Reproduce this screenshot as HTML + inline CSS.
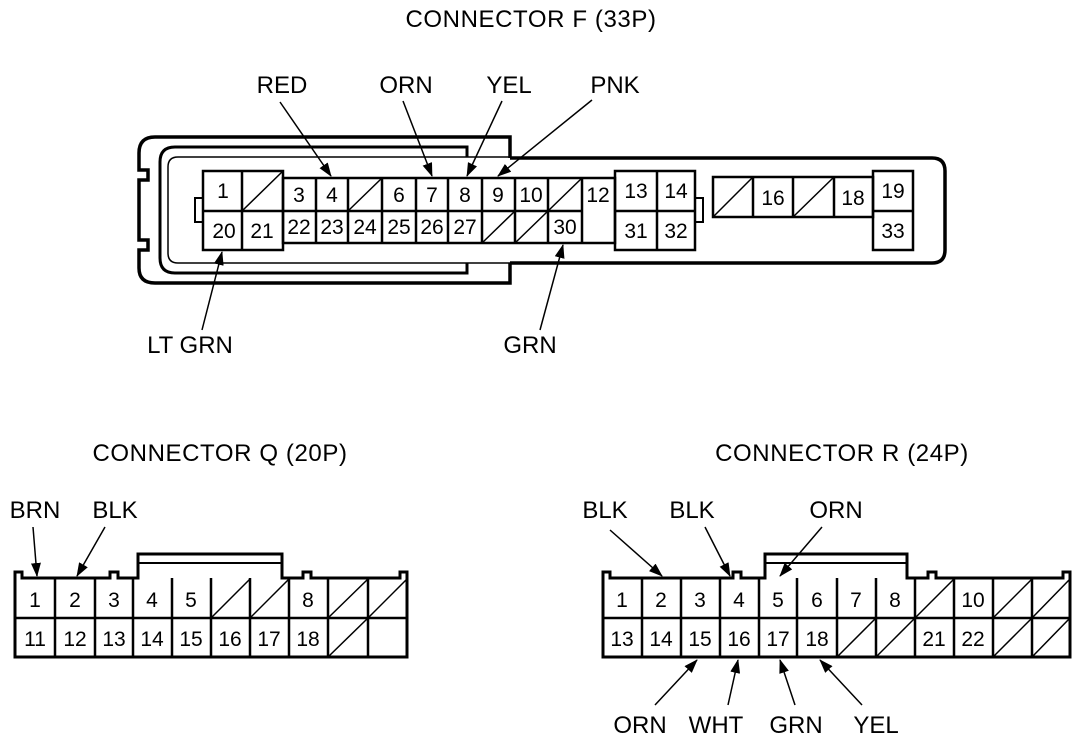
<!DOCTYPE html>
<html><head><style>
html,body{margin:0;padding:0;background:#fff;}
svg{display:block;}
text{font-family:"Liberation Sans",Arial,sans-serif;fill:#000;}
.lb{font-size:24px;}
.tt{font-size:24px;letter-spacing:0.6px;}
.n{font-size:21px;text-anchor:middle;}
</style></head><body>
<svg width="1088" height="740" viewBox="0 0 1088 740" xmlns="http://www.w3.org/2000/svg">
<defs>
<marker id="ah" markerWidth="14" markerHeight="10" refX="13" refY="5" orient="auto" markerUnits="userSpaceOnUse">
<path d="M0,0 L14,5 L0,10 Z" fill="#000"/>
</marker>
</defs>
<g fill="none" stroke="#000">
<path d="M510,158 L510,137 L155,137 Q139,137 139,153 L139,170 L148,170 L148,180 L139,180 L139,240 L148,240 L148,250 L139,250 L139,268 Q139,283 155,283 L510,283 L510,263" stroke-width="3.5"/>
<path d="M510,158 L932,158 Q945,158 945,171 L945,250 Q945,263 932,263 L510,263" stroke-width="3.5"/>
<path d="M467,157 L467,147 L175,147 Q160,147 160,162 L160,258 Q160,273 175,273 L467,273 L467,263" stroke-width="3"/>
<path d="M510,157 L178,157 Q168,157 168,167 L168,253 Q168,263 178,263 L510,263" stroke-width="1.5"/>
<path d="M203,198 L195,198 L195,222 L203,222" stroke-width="2"/>
<path d="M695,198 L703,198 L703,222 L695,222" stroke-width="2"/>
<g stroke-width="2.5">
<rect x="203" y="171" width="80" height="79"/>
<line x1="203" y1="211" x2="283" y2="211"/>
<line x1="242" y1="171" x2="242" y2="250"/>
<rect x="283" y="178" width="332" height="65"/>
<line x1="283" y1="211" x2="582" y2="211"/>
<line x1="316" y1="178" x2="316" y2="243"/>
<line x1="348" y1="178" x2="348" y2="243"/>
<line x1="382" y1="178" x2="382" y2="243"/>
<line x1="416" y1="178" x2="416" y2="243"/>
<line x1="448" y1="178" x2="448" y2="243"/>
<line x1="482" y1="178" x2="482" y2="243"/>
<line x1="515" y1="178" x2="515" y2="243"/>
<line x1="548" y1="178" x2="548" y2="243"/>
<line x1="582" y1="178" x2="582" y2="243"/>
<rect x="615" y="171" width="80" height="79"/>
<line x1="615" y1="211" x2="695" y2="211"/>
<line x1="657" y1="171" x2="657" y2="250"/>
<rect x="713" y="177" width="160" height="40"/>
<line x1="753" y1="177" x2="753" y2="217"/>
<line x1="793" y1="177" x2="793" y2="217"/>
<line x1="834" y1="177" x2="834" y2="217"/>
<rect x="873" y="171" width="40" height="79"/>
<line x1="873" y1="211" x2="913" y2="211"/>
</g>
<g stroke-width="1.5">
<line x1="242" y1="211" x2="283" y2="171"/>
<line x1="348" y1="211" x2="382" y2="178"/>
<line x1="548" y1="211" x2="582" y2="178"/>
<line x1="482" y1="243" x2="515" y2="211"/>
<line x1="515" y1="243" x2="548" y2="211"/>
<line x1="713" y1="217" x2="753" y2="177"/>
<line x1="793" y1="217" x2="834" y2="177"/>
</g>
<g stroke-width="1.5" marker-end="url(#ah)">
<line x1="280" y1="102" x2="331" y2="176"/>
<line x1="403" y1="101" x2="432" y2="176"/>
<line x1="502" y1="101" x2="467" y2="176"/>
<line x1="592" y1="100" x2="498" y2="176"/>
<line x1="202" y1="330" x2="222" y2="252"/>
<line x1="540" y1="330" x2="563" y2="245"/>
</g>

<path d="M15,657 L15,572 L22,572 L22,578 L110,578 L110,572 L118,572 L118,578 L138,578 L138,554 L282,554 L282,578 L303,578 L303,572 L311,572 L311,578 L400,578 L400,572 L407,572 L407,657 Z" stroke-width="3"/>
<line x1="138" y1="563" x2="282" y2="563" stroke-width="2"/>
<g stroke-width="2.5">
<line x1="15" y1="618" x2="407" y2="618"/>
<line x1="55" y1="578" x2="55" y2="657"/>
<line x1="95" y1="578" x2="95" y2="657"/>
<line x1="133" y1="578" x2="133" y2="657"/>
<line x1="172" y1="578" x2="172" y2="657"/>
<line x1="211" y1="578" x2="211" y2="657"/>
<line x1="250" y1="578" x2="250" y2="657"/>
<line x1="289" y1="578" x2="289" y2="657"/>
<line x1="328" y1="578" x2="328" y2="657"/>
<line x1="368" y1="578" x2="368" y2="657"/>
</g>
<g stroke-width="1.5">
<line x1="211" y1="618" x2="250" y2="579"/>
<line x1="250" y1="618" x2="289" y2="579"/>
<line x1="328" y1="618" x2="368" y2="579"/>
<line x1="368" y1="618" x2="407" y2="579"/>
<line x1="328" y1="657" x2="368" y2="618"/>
</g>
<g stroke-width="1.5" marker-end="url(#ah)">
<line x1="33" y1="527" x2="37" y2="576"/>
<line x1="105" y1="527" x2="77" y2="576"/>
</g>

<path d="M603,657 L603,572 L610,572 L610,578 L733,578 L733,572 L741,572 L741,578 L765,578 L765,554 L907,554 L907,578 L928,578 L928,572 L936,572 L936,578 L1063,578 L1063,572 L1070,572 L1070,657 Z" stroke-width="3"/>
<line x1="765" y1="563" x2="907" y2="563" stroke-width="2"/>
<g stroke-width="2.5">
<line x1="603" y1="618" x2="1070" y2="618"/>
<line x1="642" y1="578" x2="642" y2="657"/>
<line x1="681" y1="578" x2="681" y2="657"/>
<line x1="720" y1="578" x2="720" y2="657"/>
<line x1="759" y1="578" x2="759" y2="657"/>
<line x1="797" y1="578" x2="797" y2="657"/>
<line x1="837" y1="578" x2="837" y2="657"/>
<line x1="876" y1="578" x2="876" y2="657"/>
<line x1="915" y1="578" x2="915" y2="657"/>
<line x1="954" y1="578" x2="954" y2="657"/>
<line x1="993" y1="578" x2="993" y2="657"/>
<line x1="1032" y1="578" x2="1032" y2="657"/>
</g>
<g stroke-width="1.5">
<line x1="915" y1="618" x2="954" y2="579"/>
<line x1="993" y1="618" x2="1032" y2="579"/>
<line x1="1032" y1="618" x2="1070" y2="579"/>
<line x1="837" y1="657" x2="876" y2="618"/>
<line x1="876" y1="657" x2="915" y2="618"/>
<line x1="993" y1="657" x2="1032" y2="618"/>
<line x1="1032" y1="657" x2="1070" y2="618"/>
</g>
<g stroke-width="1.5" marker-end="url(#ah)">
<line x1="610" y1="530" x2="662" y2="576"/>
<line x1="705" y1="527" x2="730" y2="576"/>
<line x1="822" y1="527" x2="780" y2="576"/>
<line x1="655" y1="705" x2="697" y2="660"/>
<line x1="728" y1="705" x2="738" y2="660"/>
<line x1="795" y1="705" x2="780" y2="660"/>
<line x1="862" y1="705" x2="820" y2="660"/>
</g>
</g>

<text class="tt" x="531" y="27" text-anchor="middle">CONNECTOR F (33P)</text>
<text class="lb" x="282" y="93" text-anchor="middle">RED</text>
<text class="lb" x="406" y="93" text-anchor="middle">ORN</text>
<text class="lb" x="509" y="93" text-anchor="middle">YEL</text>
<text class="lb" x="615" y="93" text-anchor="middle">PNK</text>
<text class="lb" x="190" y="353" text-anchor="middle">LT GRN</text>
<text class="lb" x="530" y="353" text-anchor="middle">GRN</text>
<text class="tt" x="220" y="461" text-anchor="middle">CONNECTOR Q (20P)</text>
<text class="tt" x="842" y="461" text-anchor="middle">CONNECTOR R (24P)</text>
<text class="lb" x="35" y="518" text-anchor="middle">BRN</text>
<text class="lb" x="115" y="518" text-anchor="middle">BLK</text>
<text class="lb" x="605" y="518" text-anchor="middle">BLK</text>
<text class="lb" x="692" y="518" text-anchor="middle">BLK</text>
<text class="lb" x="836" y="518" text-anchor="middle">ORN</text>
<text class="lb" x="640" y="733" text-anchor="middle">ORN</text>
<text class="lb" x="716" y="733" text-anchor="middle">WHT</text>
<text class="lb" x="796" y="733" text-anchor="middle">GRN</text>
<text class="lb" x="876" y="733" text-anchor="middle">YEL</text>

<g>
<text class="n" x="223" y="198">1</text>
<text class="n" x="224" y="238">20</text>
<text class="n" x="262" y="238">21</text>
<text class="n" x="299" y="202">3</text>
<text class="n" x="332" y="202">4</text>
<text class="n" x="399" y="202">6</text>
<text class="n" x="432" y="202">7</text>
<text class="n" x="465" y="202">8</text>
<text class="n" x="498" y="202">9</text>
<text class="n" x="531" y="202">10</text>
<text class="n" x="598" y="202">12</text>
<text class="n" x="299" y="234">22</text>
<text class="n" x="332" y="234">23</text>
<text class="n" x="365" y="234">24</text>
<text class="n" x="399" y="234">25</text>
<text class="n" x="432" y="234">26</text>
<text class="n" x="465" y="234">27</text>
<text class="n" x="565" y="234">30</text>
<text class="n" x="636" y="198">13</text>
<text class="n" x="676" y="198">14</text>
<text class="n" x="636" y="238">31</text>
<text class="n" x="676" y="238">32</text>
<text class="n" x="773" y="205">16</text>
<text class="n" x="853" y="205">18</text>
<text class="n" x="893" y="198">19</text>
<text class="n" x="893" y="238">33</text>
</g>
<g>
<text class="n" x="35" y="607">1</text>
<text class="n" x="75" y="607">2</text>
<text class="n" x="114" y="607">3</text>
<text class="n" x="152" y="607">4</text>
<text class="n" x="191" y="607">5</text>
<text class="n" x="308" y="607">8</text>
<text class="n" x="35" y="646">11</text>
<text class="n" x="75" y="646">12</text>
<text class="n" x="114" y="646">13</text>
<text class="n" x="152" y="646">14</text>
<text class="n" x="191" y="646">15</text>
<text class="n" x="230" y="646">16</text>
<text class="n" x="269" y="646">17</text>
<text class="n" x="308" y="646">18</text>
</g>
<g>
<text class="n" x="622" y="607">1</text>
<text class="n" x="661" y="607">2</text>
<text class="n" x="700" y="607">3</text>
<text class="n" x="739" y="607">4</text>
<text class="n" x="778" y="607">5</text>
<text class="n" x="817" y="607">6</text>
<text class="n" x="856" y="607">7</text>
<text class="n" x="895" y="607">8</text>
<text class="n" x="973" y="607">10</text>
<text class="n" x="622" y="646">13</text>
<text class="n" x="661" y="646">14</text>
<text class="n" x="700" y="646">15</text>
<text class="n" x="739" y="646">16</text>
<text class="n" x="778" y="646">17</text>
<text class="n" x="817" y="646">18</text>
<text class="n" x="934" y="646">21</text>
<text class="n" x="973" y="646">22</text>
</g>
</svg>
</body></html>
